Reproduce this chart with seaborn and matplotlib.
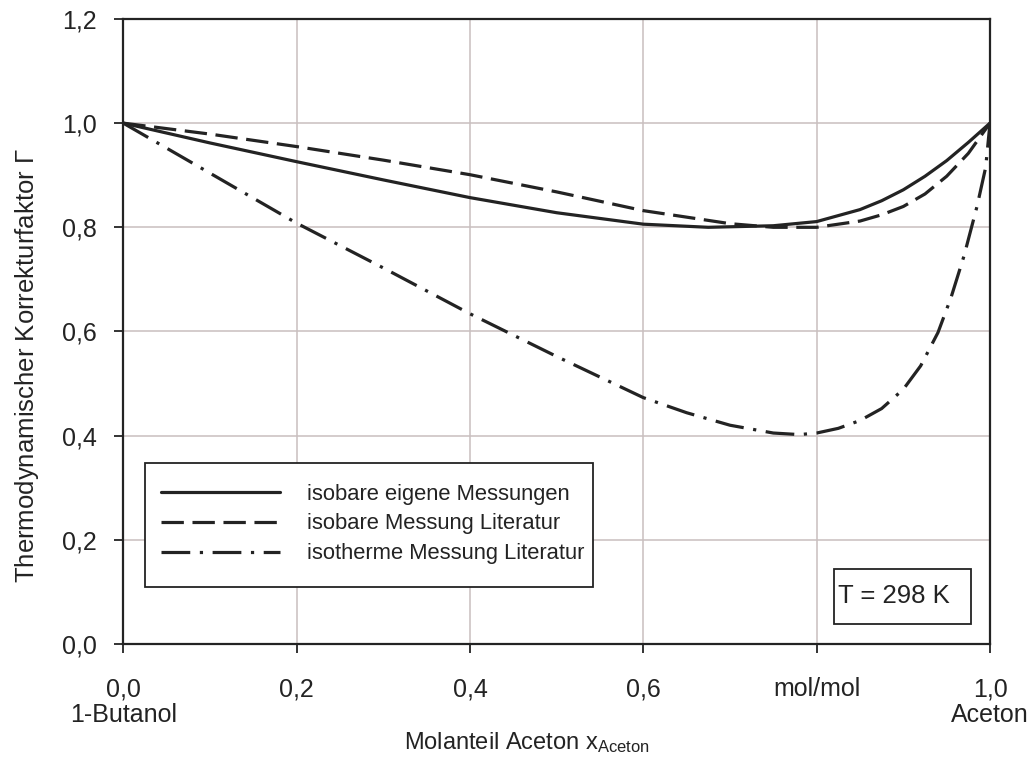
import matplotlib
matplotlib.use("Agg")
import matplotlib.pyplot as plt
from matplotlib.patches import Rectangle
import seaborn as sns
import pandas as pd

# Thermodynamic correction factor of the 1-butanol / acetone system
x_eigene = [0.0, 0.1, 0.2, 0.3, 0.4, 0.5, 0.6, 0.675, 0.75, 0.8, 0.85, 0.875, 0.9, 0.925, 0.95, 0.975, 1.0]
g_eigene = [1.0, 0.962, 0.926, 0.891, 0.857, 0.828, 0.806, 0.800, 0.803, 0.811, 0.834, 0.851, 0.872, 0.898, 0.928, 0.963, 1.0]

x_lit = [0.0, 0.1, 0.2, 0.3, 0.4, 0.5, 0.6, 0.7, 0.75, 0.8, 0.85, 0.875, 0.9, 0.925, 0.95, 0.975, 1.0]
g_lit = [1.0, 0.979, 0.955, 0.929, 0.901, 0.868, 0.832, 0.807, 0.800, 0.800, 0.812, 0.824, 0.840, 0.864, 0.898, 0.942, 1.0]

x_iso = [0.0, 0.1, 0.2, 0.3, 0.4, 0.5, 0.6, 0.65, 0.7, 0.75, 0.78, 0.8, 0.825, 0.85, 0.875, 0.9,
         0.92, 0.94, 0.955, 0.97, 0.985, 0.995, 1.0]
g_iso = [1.0, 0.904, 0.808, 0.722, 0.634, 0.552, 0.473, 0.444, 0.420, 0.405, 0.402, 0.405, 0.414, 0.429, 0.452, 0.489,
         0.534, 0.598, 0.665, 0.745, 0.840, 0.915, 1.0]

series_labels = ["isobare eigene Messungen", "isobare Messung Literatur", "isotherme Messung Literatur"]

x_ticks = [0.0, 0.2, 0.4, 0.6, 0.8, 1.0]
x_ticklabels = ["0,0\n1-Butanol", "0,2", "0,4", "0,6", "mol/mol", "1,0\nAceton"]
y_ticks = [0.0, 0.2, 0.4, 0.6, 0.8, 1.0, 1.2]
y_ticklabels = ["0,0", "0,2", "0,4", "0,6", "0,8", "1,0", "1,2"]

sns.set_theme(style="white")
plt.rcParams["font.family"] = ["Liberation Sans", "DejaVu Sans"]
plt.rcParams["mathtext.fontset"] = "stix"
plt.rcParams["mathtext.default"] = "regular"

ink = "#232323"
grid_c = "#c9bfbf"
fs = 18

fig = plt.figure(figsize=(10.29, 7.62), dpi=100)
ax = fig.add_axes([0.1198, 0.1549, 0.9621 - 0.1198, 0.9751 - 0.1549])

frames = [
    pd.DataFrame({"x": x_eigene, "g": g_eigene}),
    pd.DataFrame({"x": x_lit, "g": g_lit}),
    pd.DataFrame({"x": x_iso, "g": g_iso}),
]
styles = ["-", (0, (7, 2.7)), (0, (9, 3, 1, 3))]

for df, ls, lab in zip(frames, styles, series_labels):
    sns.lineplot(data=df, x="x", y="g", ax=ax, color=ink, linewidth=2.3,
                 linestyle=ls, label=lab, sort=False, zorder=3)

ax.set_xlim(0, 1)
ax.set_ylim(0, 1.2)
ax.set_xticks(x_ticks)
ax.set_xticklabels(x_ticklabels, fontsize=fs, color=ink)
for t in ax.get_xticklabels():
    t.set_linespacing(1.1)
ax.set_yticks(y_ticks)
ax.set_yticklabels(y_ticklabels, fontsize=fs, color=ink)
ax.tick_params(axis="both", direction="out", length=6.5, width=1.3, color=ink,
               bottom=True, left=True)
ax.tick_params(axis="x", pad=17.5)
ax.tick_params(axis="y", pad=12.5)

ax.grid(True, color=grid_c, linewidth=1.1)
ax.set_axisbelow(True)
for sp in ax.spines.values():
    sp.set_visible(True)
    sp.set_color(ink)
    sp.set_linewidth(1.6)

ax.set_xlabel(r"Molanteil Aceton x$_{\mathregular{Aceton}}$", fontsize=17, color=ink)
ax.xaxis.set_label_coords(0.466, -0.138)
ax.set_ylabel(r"Thermodynamischer Korrekturfaktor $\Gamma$", fontsize=18.5, color=ink)
ax.yaxis.set_label_coords(-0.095, 0.446)

# Legend inside a plain rectangular frame
ax.add_patch(Rectangle((0.025, 0.0912), 0.517, 0.198, transform=ax.transAxes,
                       facecolor="white", edgecolor=ink, linewidth=1.3, zorder=4))
leg = ax.legend(loc="center left", bbox_to_anchor=(0.044, 0.192), frameon=False,
                fontsize=15.8, handlelength=5.4, handletextpad=1.25, labelspacing=0.4,
                borderpad=0, borderaxespad=0)
leg.set_zorder(5)
for t in leg.get_texts():
    t.set_color(ink)

# Temperature annotation
ax.add_patch(Rectangle((0.820, 0.032), 0.158, 0.088, transform=ax.transAxes,
                       facecolor="white", edgecolor=ink, linewidth=1.3, zorder=4))
ax.text(0.8246, 0.076, "T = 298 K", transform=ax.transAxes, fontsize=18.5,
        color=ink, ha="left", va="center", zorder=5)

fig.savefig("out.png", dpi=100)
